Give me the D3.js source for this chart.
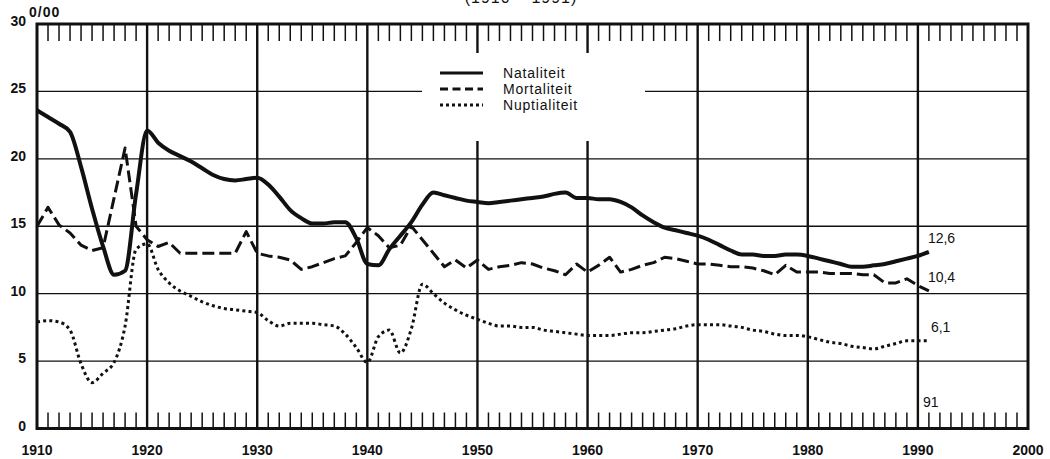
<!DOCTYPE html>
<html>
<head>
<meta charset="utf-8">
<script src="https://cdn.jsdelivr.net/npm/d3@7"></script>
<style>
  body { margin: 0; background: #fff; }
  svg { display: block; font-family: "Liberation Sans", Arial, Helvetica, sans-serif; }
  .tick-label { font-size: 14px; font-weight: bold; fill: #111; }
  .legend-label { font-size: 14px; letter-spacing: 0.8px; fill: #111; }
  .end-label { font-size: 14px; fill: #111; }
</style>
</head>
<body>
<svg id="chart" width="1050" height="459"></svg>
<script>
// jaarcijfers per 1000 inwoners
var years = d3.range(1910, 1992);

var nataliteit = [
  23.6, 23.1, 22.6, 22.0, 19.4, 16.3, 13.5, 11.4, 11.7, 17.4,
  22.1, 21.2, 20.6, 20.2, 19.8, 19.3, 18.8, 18.5, 18.4, 18.5,
  18.6, 18.1, 17.2, 16.2, 15.6, 15.2, 15.2, 15.3, 15.3, 14.1,
  12.2, 12.1, 13.3, 14.3, 15.3, 16.6, 17.5, 17.3, 17.1, 16.9,
  16.8, 16.7, 16.8, 16.9, 17.0, 17.1, 17.2, 17.4, 17.5, 17.1,
  17.1, 17.0, 17.0, 16.8, 16.4, 15.8, 15.3, 14.9, 14.7, 14.5,
  14.3, 14.0, 13.6, 13.2, 12.9, 12.9, 12.8, 12.8, 12.9, 12.9,
  12.8, 12.6, 12.4, 12.2, 12.0, 12.0, 12.1, 12.2, 12.4, 12.6,
  12.8, 13.1
];

var mortaliteit = [
  15.0, 16.4, 15.1, 14.5, 13.6, 13.2, 13.4, 17.1, 20.8, 15.0,
  14.0, 13.5, 13.8, 13.0, 13.0, 13.0, 13.0, 13.0, 13.0, 14.6,
  13.0, 12.8, 12.7, 12.5, 11.8, 12.0, 12.3, 12.6, 12.8, 13.8,
  14.9, 14.3, 13.4, 13.6, 15.0, 14.0, 13.0, 12.0, 12.5, 11.9,
  12.5, 11.8, 12.0, 12.1, 12.3, 12.2, 11.9, 11.7, 11.4, 12.2,
  11.6, 12.1, 12.7, 11.6, 11.8, 12.1, 12.3, 12.7, 12.6, 12.4,
  12.2, 12.2, 12.1, 12.0, 12.0, 11.9, 11.7, 11.4, 12.1, 11.6,
  11.6, 11.6, 11.5, 11.5, 11.5, 11.4, 11.4, 10.8, 10.8, 11.1,
  10.6, 10.2
];

var nuptialiteit = [
  7.9, 8.0, 7.9, 7.3, 4.8, 3.4, 4.1, 4.9, 7.6, 13.3,
  13.7, 11.8, 10.8, 10.2, 9.8, 9.4, 9.1, 8.9, 8.8, 8.7,
  8.6, 8.0, 7.6, 7.8, 7.8, 7.8, 7.7, 7.6, 7.0, 6.0,
  4.9, 6.8, 7.3, 5.6, 7.4, 10.7, 10.0, 9.3, 8.8, 8.4,
  8.1, 7.8, 7.6, 7.6, 7.5, 7.5, 7.3, 7.2, 7.1, 7.0,
  6.9, 6.9, 6.9, 7.0, 7.1, 7.1, 7.2, 7.3, 7.4, 7.6,
  7.7, 7.7, 7.7, 7.6, 7.5, 7.3, 7.2, 7.0, 6.9, 6.9,
  6.8, 6.6, 6.4, 6.3, 6.1, 6.0, 5.9, 6.1, 6.3, 6.5,
  6.5, 6.5
];

var endLabels = ["12,6", "10,4", "6,1"];
var yTicks = [0, 5, 10, 15, 20, 25, 30];
var xTicks = d3.range(1910, 2001, 10);
var legendNames = ["Nataliteit", "Mortaliteit", "Nuptialiteit"];

var svg = d3.select("#chart");
var ink = "#111";

var x = d3.scaleLinear().domain([1910, 2000]).range([37, 1028]);
var y = d3.scaleLinear().domain([0, 30]).range([428.5, 24]);

// titel (grotendeels buiten beeld)
svg.append("text")
  .attr("x", 521).attr("y", 3)
  .attr("text-anchor", "middle")
  .style("font-size", "16px").style("letter-spacing", "1px")
  .attr("fill", ink)
  .text("(1910 \u2013 1991)");

// horizontale rasterlijnen
svg.append("g").selectAll("line")
  .data(yTicks.filter(function(d) { return d > 0 && d < 30; }))
  .enter().append("line")
  .attr("x1", x(1910)).attr("x2", x(2000))
  .attr("y1", function(d) { return y(d); })
  .attr("y2", function(d) { return y(d); })
  .attr("stroke", ink).attr("stroke-width", 1.4);

// verticale lijnen per decennium
svg.append("g").selectAll("line")
  .data(xTicks.filter(function(d) { return d > 1910 && d < 2000; }))
  .enter().append("line")
  .attr("x1", function(d) { return x(d); })
  .attr("x2", function(d) { return x(d); })
  .attr("y1", y(30)).attr("y2", y(0))
  .attr("stroke", ink).attr("stroke-width", 2.4);

// kleine jaarstreepjes boven en onder
var minor = d3.range(1911, 2000).filter(function(d) { return d % 10 !== 0; });
var ticks = svg.append("g").attr("stroke", ink).attr("stroke-width", 1.5);
ticks.selectAll(".top").data(minor).enter().append("line")
  .attr("class", "top")
  .attr("x1", function(d) { return x(d); })
  .attr("x2", function(d) { return x(d); })
  .attr("y1", y(30)).attr("y2", y(30) + 17);
ticks.selectAll(".bot").data(minor).enter().append("line")
  .attr("class", "bot")
  .attr("x1", function(d) { return x(d); })
  .attr("x2", function(d) { return x(d); })
  .attr("y1", y(0)).attr("y2", y(0) - 16);

// legende: witte achtergrond onderbreekt het raster
svg.append("rect")
  .attr("x", 422).attr("y", 53)
  .attr("width", 223).attr("height", 88)
  .attr("fill", "#fff");

// kader
svg.append("rect")
  .attr("x", x(1910)).attr("y", y(30))
  .attr("width", x(2000) - x(1910)).attr("height", y(0) - y(30))
  .attr("fill", "none").attr("stroke", ink).attr("stroke-width", 3);

// as-labels
svg.append("g").selectAll("text")
  .data(yTicks).enter().append("text")
  .attr("class", "tick-label")
  .attr("x", 26)
  .attr("y", function(d) { return y(d) + 2; })
  .attr("text-anchor", "end")
  .text(function(d) { return d; });

svg.append("text")
  .attr("class", "tick-label")
  .attr("x", 29).attr("y", 17)
  .style("letter-spacing", "1px")
  .text("0/00");

svg.append("g").selectAll("text")
  .data(xTicks).enter().append("text")
  .attr("class", "tick-label")
  .attr("x", function(d) { return x(d); })
  .attr("y", 455)
  .attr("text-anchor", "middle")
  .text(function(d) { return d; });

// reeksen
var series = [
  { values: nataliteit, width: 4, dash: null, curve: d3.curveMonotoneX },
  { values: mortaliteit, width: 3, dash: "12,5", curve: d3.curveLinear },
  { values: nuptialiteit, width: 3, dash: "3,3.2", curve: d3.curveMonotoneX }
];

series.forEach(function(s) {
  var line = d3.line()
    .x(function(d, i) { return x(years[i]); })
    .y(function(d) { return y(d); })
    .curve(s.curve);
  svg.append("path")
    .datum(s.values)
    .attr("d", line)
    .attr("fill", "none")
    .attr("stroke", ink)
    .attr("stroke-width", s.width)
    .attr("stroke-linejoin", "round")
    .attr("stroke-dasharray", s.dash);
});

// eindwaarden
series.forEach(function(s, i) {
  var last = s.values[s.values.length - 1];
  svg.append("text")
    .attr("class", "end-label")
    .attr("x", x(1991) - 1 + (i === 2 ? 3 : 0))
    .attr("y", y(last) - 9)
    .text(endLabels[i]);
});

svg.append("text")
  .attr("class", "end-label")
  .attr("x", x(1991) - 6)
  .attr("y", 407)
  .text("91");

// legende
var legendStyle = [
  { width: 3, dash: null },
  { width: 3, dash: "8,4.5" },
  { width: 3, dash: "3,3" }
];
var legend = svg.append("g");
legendNames.forEach(function(name, i) {
  var ly = 73 + i * 16;
  legend.append("line")
    .attr("x1", 440).attr("x2", 483)
    .attr("y1", ly).attr("y2", ly)
    .attr("stroke", ink)
    .attr("stroke-width", legendStyle[i].width)
    .attr("stroke-dasharray", legendStyle[i].dash);
  legend.append("text")
    .attr("class", "legend-label")
    .attr("x", 503).attr("y", ly + 5)
    .text(name);
});
</script>
</body>
</html>
